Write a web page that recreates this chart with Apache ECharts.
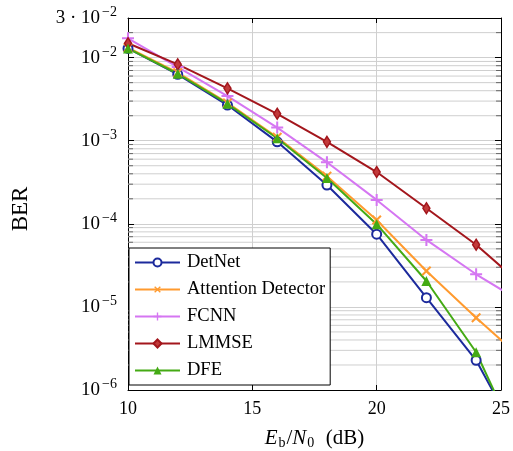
<!DOCTYPE html>
<html><head><meta charset="utf-8">
<script src="https://cdn.jsdelivr.net/npm/echarts@6/dist/echarts.min.js"></script>
<style>html,body{margin:0;padding:0;background:#fff}#c{width:513px;height:451px}</style>
</head><body><div id="c"></div>
<script>
const snr = [10, 12, 14, 16, 18, 20, 22, 24, 26];
const detnet = [1.29e-2, 6.3e-3, 2.69e-3, 9.7e-4, 2.93e-4, 7.5e-5, 1.29e-5, 2.28e-6, 1.8e-7];
const attention = [1.32e-2, 6.6e-3, 2.85e-3, 1.10e-3, 3.75e-4, 1.11e-4, 2.71e-5, 7.4e-6, 2.16e-6];
const fcnn = [1.71e-2, 7.7e-3, 3.45e-3, 1.44e-3, 5.5e-4, 1.94e-4, 6.4e-5, 2.47e-5, 1.07e-5];
const lmmse = [1.49e-2, 8.3e-3, 4.27e-3, 2.11e-3, 9.7e-4, 4.2e-4, 1.54e-4, 5.6e-5, 1.68e-5];
const dfe = [1.29e-2, 6.4e-3, 2.79e-3, 1.07e-3, 3.56e-4, 9.9e-5, 2.05e-5, 2.85e-6, 1.45e-7];
const xTicks = [10, 15, 20, 25];
const yMajor = [1e-6, 1e-5, 1e-4, 1e-3, 1e-2, 3e-2];
const yMinor = [];
[1e-6, 1e-5, 1e-4, 1e-3].forEach(d => { for (let m = 2; m <= 9; m++) yMinor.push(m * d); });
yMinor.push(2e-2);

const FONT = 'Liberation Serif';
const XMIN = 10, XMAX = 25, TICK = 0.2;
const pair = a => snr.map((x, i) => [x, a[i]]);
const PLUS = 'path://M-1,-0.17L-0.17,-0.17L-0.17,-1L0.17,-1L0.17,-0.17L1,-0.17L1,0.17L0.17,0.17L0.17,1L-0.17,1L-0.17,0.17L-1,0.17Z';
const DIAM = 'path://M0,-1L0.6,0L0,1L-0.6,0Z';

function yLabel(v) {
  const e = Math.floor(Math.log10(v) + 1e-9);
  const m = Math.round(v / Math.pow(10, e));
  const sup = '{s|\u2212' + (-e) + '}';
  return m === 1 ? '{b|10}' + sup : '{b|' + m + ' \u00b7 10}' + sup;
}

// minor grid lines and minor tick segments, drawn as broken line series
const gridData = [];
yMinor.forEach(v => { gridData.push([XMIN, v], [XMAX, v], [XMAX, '-']); });
const tickData = [];
yMinor.forEach(v => {
  tickData.push([XMIN, v], [XMIN + TICK, v], [XMIN + TICK, '-']);
  tickData.push([XMAX - TICK, v], [XMAX, v], [XMAX, '-']);
});

const chart = echarts.init(document.getElementById('c'));
const mk = (name, data, color, symbol, size, extra) => Object.assign({
  name, type: 'line', data: pair(data), symbol, symbolSize: size,
  lineStyle: { color, width: 2 }, itemStyle: { color },
  clip: true, z: 3
}, extra || {});

chart.setOption({
  animation: false,
  textStyle: { fontFamily: FONT },
  grid: { left: 128, right: 12, top: 18, bottom: 61, containLabel: false, outerBoundsMode: 'none' },
  xAxis: [{
    type: 'value', min: XMIN, max: XMAX, interval: 5,
    name: '{i|E}{sub|b}{n|/}{i|N}{sub|0}{n|  (dB)}', nameLocation: 'middle', nameGap: 37,
    nameTextStyle: { rich: {
      i: { fontFamily: FONT, fontStyle: 'italic', fontSize: 21, color: '#000', padding: [0, 1, 0, 0] },
      n: { fontFamily: FONT, fontSize: 21, color: '#000' },
      sub: { fontFamily: FONT, fontSize: 14, color: '#000', padding: [9, 1, 0, 0] }
    } },
    axisLine: { show: true, onZero: false, lineStyle: { color: '#000', width: 1 } },
    axisTick: { show: true, inside: true, length: 5, lineStyle: { color: '#000' } },
    axisLabel: { color: '#000', fontSize: 18, fontFamily: FONT, margin: 10, formatter: v => xTicks.includes(v) ? String(v) : '' },
    splitLine: { show: true, lineStyle: { color: '#cfcfcf', width: 1 } }
  }, {
    type: 'value', min: XMIN, max: XMAX, interval: 5, position: 'top',
    axisLine: { show: true, onZero: false, lineStyle: { color: '#000', width: 1 } },
    axisTick: { show: true, inside: true, length: 5, lineStyle: { color: '#000' } },
    axisLabel: { show: false }, splitLine: { show: false }
  }],
  yAxis: [{
    type: 'log', logBase: 10, min: 1e-6, max: 3e-2, interval: 1,
    name: 'BER', nameLocation: 'middle', nameGap: 96,
    nameTextStyle: { color: '#000', fontSize: 23, fontFamily: FONT, padding: [0, 10, 0, 0] },
    axisLine: { show: true, onZero: false, lineStyle: { color: '#000', width: 1 } },
    axisTick: { show: true, inside: true, length: 6, lineStyle: { color: '#000' } },
    axisLabel: { color: '#000', margin: 11, formatter: yLabel,
      rich: {
        b: { fontFamily: FONT, fontSize: 19, color: '#000' },
        s: { fontFamily: FONT, fontSize: 14, color: '#000', padding: [0, 0, 11, 2] }
      } },
    splitLine: { show: true, lineStyle: { color: '#cfcfcf', width: 1 } }
  }, {
    type: 'log', logBase: 10, min: 1e-6, max: 3e-2, interval: 1, position: 'right',
    axisLine: { show: true, onZero: false, lineStyle: { color: '#000', width: 1 } },
    axisTick: { show: true, inside: true, length: 6, lineStyle: { color: '#000' } },
    axisLabel: { show: false }, splitLine: { show: false }
  }],
  legend: {
    orient: 'vertical', left: 129, top: 248,
    data: ['DetNet', 'Attention Detector', 'FCNN', 'LMMSE', 'DFE'],
    itemWidth: 45, itemHeight: 10, itemGap: 8,
    padding: [5, 5, 5, 5],
    borderColor: '#000', borderWidth: 1, backgroundColor: '#fff',
    textStyle: { fontFamily: FONT, fontSize: 18.5, color: '#000', padding: [0, 0, 0, 2] }
  },
  series: [
    { name: 'minor-grid', type: 'line', data: gridData, symbol: 'none', silent: true, z: 1,
      connectNulls: false, lineStyle: { color: '#cfcfcf', width: 1 } },
    { name: 'minor-ticks', type: 'line', data: tickData, symbol: 'none', silent: true, z: 2,
      connectNulls: false, lineStyle: { color: '#666', width: 1 } },
    mk('DetNet', detnet, '#1c2a9c', 'circle', 9, { itemStyle: { color: '#fff', borderColor: '#1c2a9c', borderWidth: 2 } }),
    mk('Attention Detector', attention, '#ff9a2e', PLUS, 12, { symbolRotate: 45 }),
    mk('FCNN', fcnn, '#d576f2', PLUS, 12),
    mk('LMMSE', lmmse, '#a3161c', DIAM, [7, 11], { itemStyle: { color: '#c23a3a', borderColor: '#a3161c', borderWidth: 1.5 } }),
    mk('DFE', dfe, '#44aa14', 'triangle', 10)
  ]
});
</script></body></html>
